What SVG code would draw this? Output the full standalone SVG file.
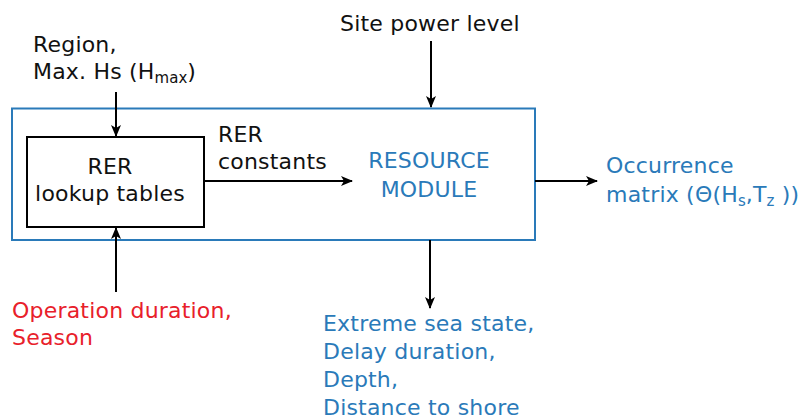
<svg xmlns="http://www.w3.org/2000/svg" width="807" height="418" viewBox="0 0 807 418">
  <style>
    text { font-family: "DejaVu Sans", Verdana, sans-serif; font-size: 22px; letter-spacing: 0.2px; fill: #111; }
    .blue { fill: #2a7ab9; }
    .red { fill: #e8202a; }
    .sub { font-size: 15px; letter-spacing: 0; }
    .wire { stroke: #000; stroke-width: 2; fill: none; marker-end: url(#arrow); }
  </style>
  <defs>
    <marker id="arrow" viewBox="0 0 12 10" refX="11" refY="5" markerWidth="12" markerHeight="10" markerUnits="userSpaceOnUse" orient="auto">
      <path d="M0,0 L12,5 L0,10 L3,5 z" fill="#000"/>
    </marker>
  </defs>

  <!-- outer module frame -->
  <g id="resource-module">
    <rect x="12" y="108.5" width="523" height="131.5" fill="none" stroke="#2a7ab9" stroke-width="2"/>
    <text class="blue" x="429" y="168" text-anchor="middle">RESOURCE</text>
    <text class="blue" x="429" y="196.5" text-anchor="middle">MODULE</text>
  </g>

  <!-- lookup tables box -->
  <g id="lookup-tables">
    <rect x="27" y="137" width="177" height="90" fill="#fff" stroke="#000" stroke-width="2"/>
    <text x="110" y="174" text-anchor="middle">RER</text>
    <text x="110" y="201" text-anchor="middle">lookup tables</text>
  </g>

  <g id="input-region">
    <text x="33" y="51.5">Region,</text>
    <text x="33" y="79">Max. Hs (H<tspan class="sub" dy="4">max</tspan><tspan dy="-4">)</tspan></text>
  </g>

  <g id="input-site-power">
    <text x="340" y="30.5">Site power level</text>
  </g>

  <g id="input-operation">
    <text class="red" x="12" y="318">Operation duration,</text>
    <text class="red" x="12" y="345">Season</text>
  </g>

  <g id="rer-constants-label">
    <text x="218" y="141.5">RER</text>
    <text x="218" y="169">constants</text>
  </g>

  <g id="output-occurrence">
    <text class="blue" x="606" y="173">Occurrence</text>
    <text class="blue" x="606" y="201.5">matrix (Θ(H<tspan class="sub" dy="4">s</tspan><tspan dy="-4">,T</tspan><tspan class="sub" dy="4">z</tspan><tspan dy="-4"> ))</tspan></text>
  </g>

  <g id="output-extremes">
    <text class="blue" x="323" y="330.5">Extreme sea state,</text>
    <text class="blue" x="323" y="358.5">Delay duration,</text>
    <text class="blue" x="323" y="386.5">Depth,</text>
    <text class="blue" x="323" y="414.5">Distance to shore</text>
  </g>

  <!-- connectors -->
  <g id="connectors">
    <line class="wire" x1="116" y1="92" x2="116" y2="136"/>
    <line class="wire" x1="116" y1="292" x2="116" y2="228"/>
    <line class="wire" x1="204" y1="181" x2="352" y2="181"/>
    <line class="wire" x1="431" y1="41" x2="431" y2="107"/>
    <line class="wire" x1="535" y1="181" x2="597" y2="181"/>
    <line class="wire" x1="430" y1="240" x2="430" y2="308"/>
  </g>
</svg>
